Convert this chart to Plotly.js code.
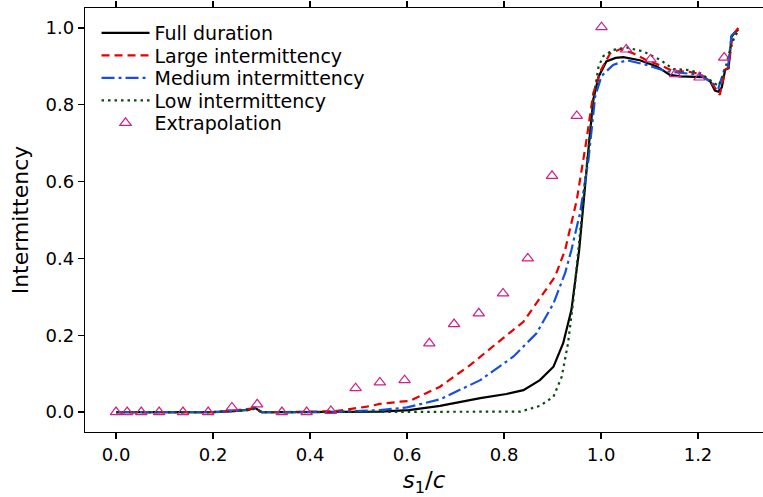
<!DOCTYPE html>
<html>
<head>
<meta charset="utf-8">
<script src="https://cdn.plot.ly/plotly-3.0.1.min.js"></script>
<style>html,body{margin:0;padding:0;background:#fff;}#chart{width:763px;height:497px;}</style>
</head>
<body>
<div id="chart"></div>
<script>
// Full duration (black solid)
const fullX = [0.0, 0.1, 0.2, 0.24, 0.26, 0.275, 0.285, 0.292, 0.3, 0.35, 0.45, 0.544, 0.604, 0.668, 0.751, 0.805, 0.840, 0.874, 0.902, 0.922, 0.939, 0.955, 0.974, 0.984, 0.995, 1.011, 1.030, 1.046, 1.080, 1.115, 1.142, 1.163, 1.211, 1.225, 1.235, 1.242, 1.249, 1.256, 1.263, 1.269, 1.276, 1.283];
const fullY = [0.0, 0.0, 0.0, 0.002, 0.005, 0.006, 0.012, 0.006, 0.0, 0.0, 0.0, 0.001, 0.005, 0.016, 0.036, 0.047, 0.057, 0.083, 0.118, 0.179, 0.266, 0.422, 0.682, 0.813, 0.873, 0.913, 0.922, 0.924, 0.916, 0.900, 0.878, 0.874, 0.872, 0.861, 0.837, 0.834, 0.845, 0.891, 0.895, 0.977, 0.988, 0.996];

// Large intermittency (red dashed)
const largeX = [0.0, 0.1, 0.2, 0.24, 0.26, 0.275, 0.285, 0.292, 0.3, 0.35, 0.45, 0.517, 0.544, 0.586, 0.606, 0.668, 0.730, 0.785, 0.840, 0.881, 0.905, 0.926, 0.950, 0.970, 0.984, 1.000, 1.019, 1.040, 1.066, 1.094, 1.128, 1.149, 1.177, 1.204, 1.225, 1.238, 1.245, 1.256, 1.263, 1.271, 1.283];
const largeY = [0.0, 0.0, 0.0, 0.003, 0.007, 0.008, 0.012, 0.006, 0.0, 0.0, 0.002, 0.014, 0.021, 0.027, 0.029, 0.066, 0.122, 0.179, 0.235, 0.309, 0.352, 0.422, 0.552, 0.708, 0.830, 0.891, 0.934, 0.945, 0.934, 0.916, 0.900, 0.887, 0.887, 0.880, 0.861, 0.839, 0.826, 0.891, 0.897, 0.980, 1.0];

// Medium intermittency (blue dash-dot)
const mediumX = [0.0, 0.1, 0.2, 0.24, 0.26, 0.275, 0.285, 0.292, 0.3, 0.35, 0.45, 0.544, 0.60, 0.668, 0.751, 0.819, 0.867, 0.902, 0.926, 0.939, 0.957, 0.974, 0.988, 1.001, 1.025, 1.053, 1.094, 1.135, 1.163, 1.204, 1.225, 1.242, 1.254, 1.262, 1.269, 1.283];
const mediumY = [0.0, 0.0, 0.0, 0.002, 0.005, 0.006, 0.010, 0.005, 0.0, 0.0, 0.0, 0.005, 0.012, 0.033, 0.083, 0.144, 0.205, 0.283, 0.362, 0.422, 0.520, 0.656, 0.822, 0.875, 0.904, 0.916, 0.904, 0.887, 0.883, 0.878, 0.861, 0.843, 0.891, 0.900, 0.980, 0.996];

// Low intermittency (green dotted)
const lowX = [0.0, 0.1, 0.2, 0.24, 0.26, 0.275, 0.285, 0.292, 0.3, 0.4, 0.6, 0.8, 0.833, 0.874, 0.902, 0.919, 0.932, 0.943, 0.953, 0.970, 0.984, 0.995, 1.005, 1.025, 1.053, 1.087, 1.122, 1.149, 1.177, 1.204, 1.225, 1.242, 1.254, 1.266, 1.274, 1.283];
const lowY = [0.0, 0.0, 0.0, 0.002, 0.004, 0.005, 0.008, 0.004, 0.0, 0.0, 0.0, 0.0, 0.001, 0.016, 0.040, 0.092, 0.179, 0.292, 0.422, 0.639, 0.813, 0.900, 0.927, 0.943, 0.949, 0.939, 0.917, 0.893, 0.891, 0.883, 0.865, 0.849, 0.883, 0.943, 0.972, 0.994];

// Extrapolation (triangles)
const extraX = [0.0, 0.023, 0.052, 0.089, 0.138, 0.19, 0.239, 0.291, 0.342, 0.393, 0.443, 0.494, 0.544, 0.595, 0.646, 0.697, 0.748, 0.798, 0.849, 0.899, 0.950, 1.001, 1.052, 1.102, 1.153, 1.203, 1.254];
const extraY = [0.0, 0.0, 0.0, 0.0, 0.0, 0.0, 0.012, 0.020, 0.0, 0.0, 0.003, 0.062, 0.077, 0.083, 0.179, 0.229, 0.257, 0.309, 0.400, 0.615, 0.771, 1.002, 0.944, 0.918, 0.880, 0.871, 0.923];

const seriesNames = ["Full duration", "Large intermittency", "Medium intermittency", "Low intermittency", "Extrapolation"];

const traces = [
  {x: fullX, y: fullY, mode: 'lines', name: seriesNames[0], legend: 'legend', line: {color: '#000000', width: 2.2}},
  {x: largeX, y: largeY, mode: 'lines', name: seriesNames[1], legend: 'legend2', line: {color: '#e80000', width: 2.2, dash: '8px,5px'}},
  {x: mediumX, y: mediumY, mode: 'lines', name: seriesNames[2], legend: 'legend3', line: {color: '#1450e0', width: 2.2, dash: '13px,4px,3px,4px'}},
  {x: lowX, y: lowY, mode: 'lines', name: seriesNames[3], legend: 'legend4', line: {color: '#0a4a12', width: 2.2, dash: '2.5px,4px'}},
  {x: extraX, y: extraY, mode: 'markers', name: seriesNames[4], legend: 'legend5', marker: {symbol: 'triangle-up-open', size: 10, color: '#cc1f8a', line: {width: 1.2, color: '#cc1f8a'}}}
];

const legFont = {family: 'DejaVu Sans, sans-serif', size: 19, color: '#000'};
function leg(py) {
  return {x: 0.017, y: (432 - py) / 424, xanchor: 'left', yanchor: 'middle', bgcolor: 'rgba(0,0,0,0)', font: legFont, itemwidth: 48};
}

const layout = {
  width: 763, height: 497,
  margin: {l: 85, r: 0, t: 8, b: 65},
  paper_bgcolor: '#fff', plot_bgcolor: '#fff',
  font: {family: 'DejaVu Sans, sans-serif', color: '#000'},
  showlegend: true,
  legend: leg(33),
  legend2: leg(55.5),
  legend3: leg(78),
  legend4: leg(100.5),
  legend5: leg(123),
  xaxis: {
    range: [-0.064, 1.334], tickvals: [0, 0.2, 0.4, 0.6, 0.8, 1.0, 1.2], ticktext: ['0.0','0.2','0.4','0.6','0.8','1.0','1.2'],
    showgrid: false, zeroline: false, showline: true, linecolor: '#000', linewidth: 1.3, mirror: 'ticks',
    ticks: 'outside', ticklen: 6, tickwidth: 1.3, tickcolor: '#000',
    tickfont: {family: 'DejaVu Sans, sans-serif', size: 18, color: '#000'},
    title: {text: '<i>s</i><sub>1</sub>/<i>c</i>', font: {family: 'DejaVu Sans, sans-serif', size: 23, color: '#000'}, standoff: 8}
  },
  yaxis: {
    range: [-0.052, 1.052], tickvals: [0, 0.2, 0.4, 0.6, 0.8, 1.0], ticktext: ['0.0','0.2','0.4','0.6','0.8','1.0'],
    showgrid: false, zeroline: false, showline: true, linecolor: '#000', linewidth: 1.3,
    ticks: 'outside', ticklen: 6, tickwidth: 1.3, tickcolor: '#000',
    tickfont: {family: 'DejaVu Sans, sans-serif', size: 18, color: '#000'},
    title: {text: 'Intermittency', font: {family: 'DejaVu Sans, sans-serif', size: 22, color: '#000'}, standoff: 10}
  }
};

Plotly.newPlot('chart', traces, layout, {displayModeBar: false, staticPlot: true});
</script>
</body>
</html>
